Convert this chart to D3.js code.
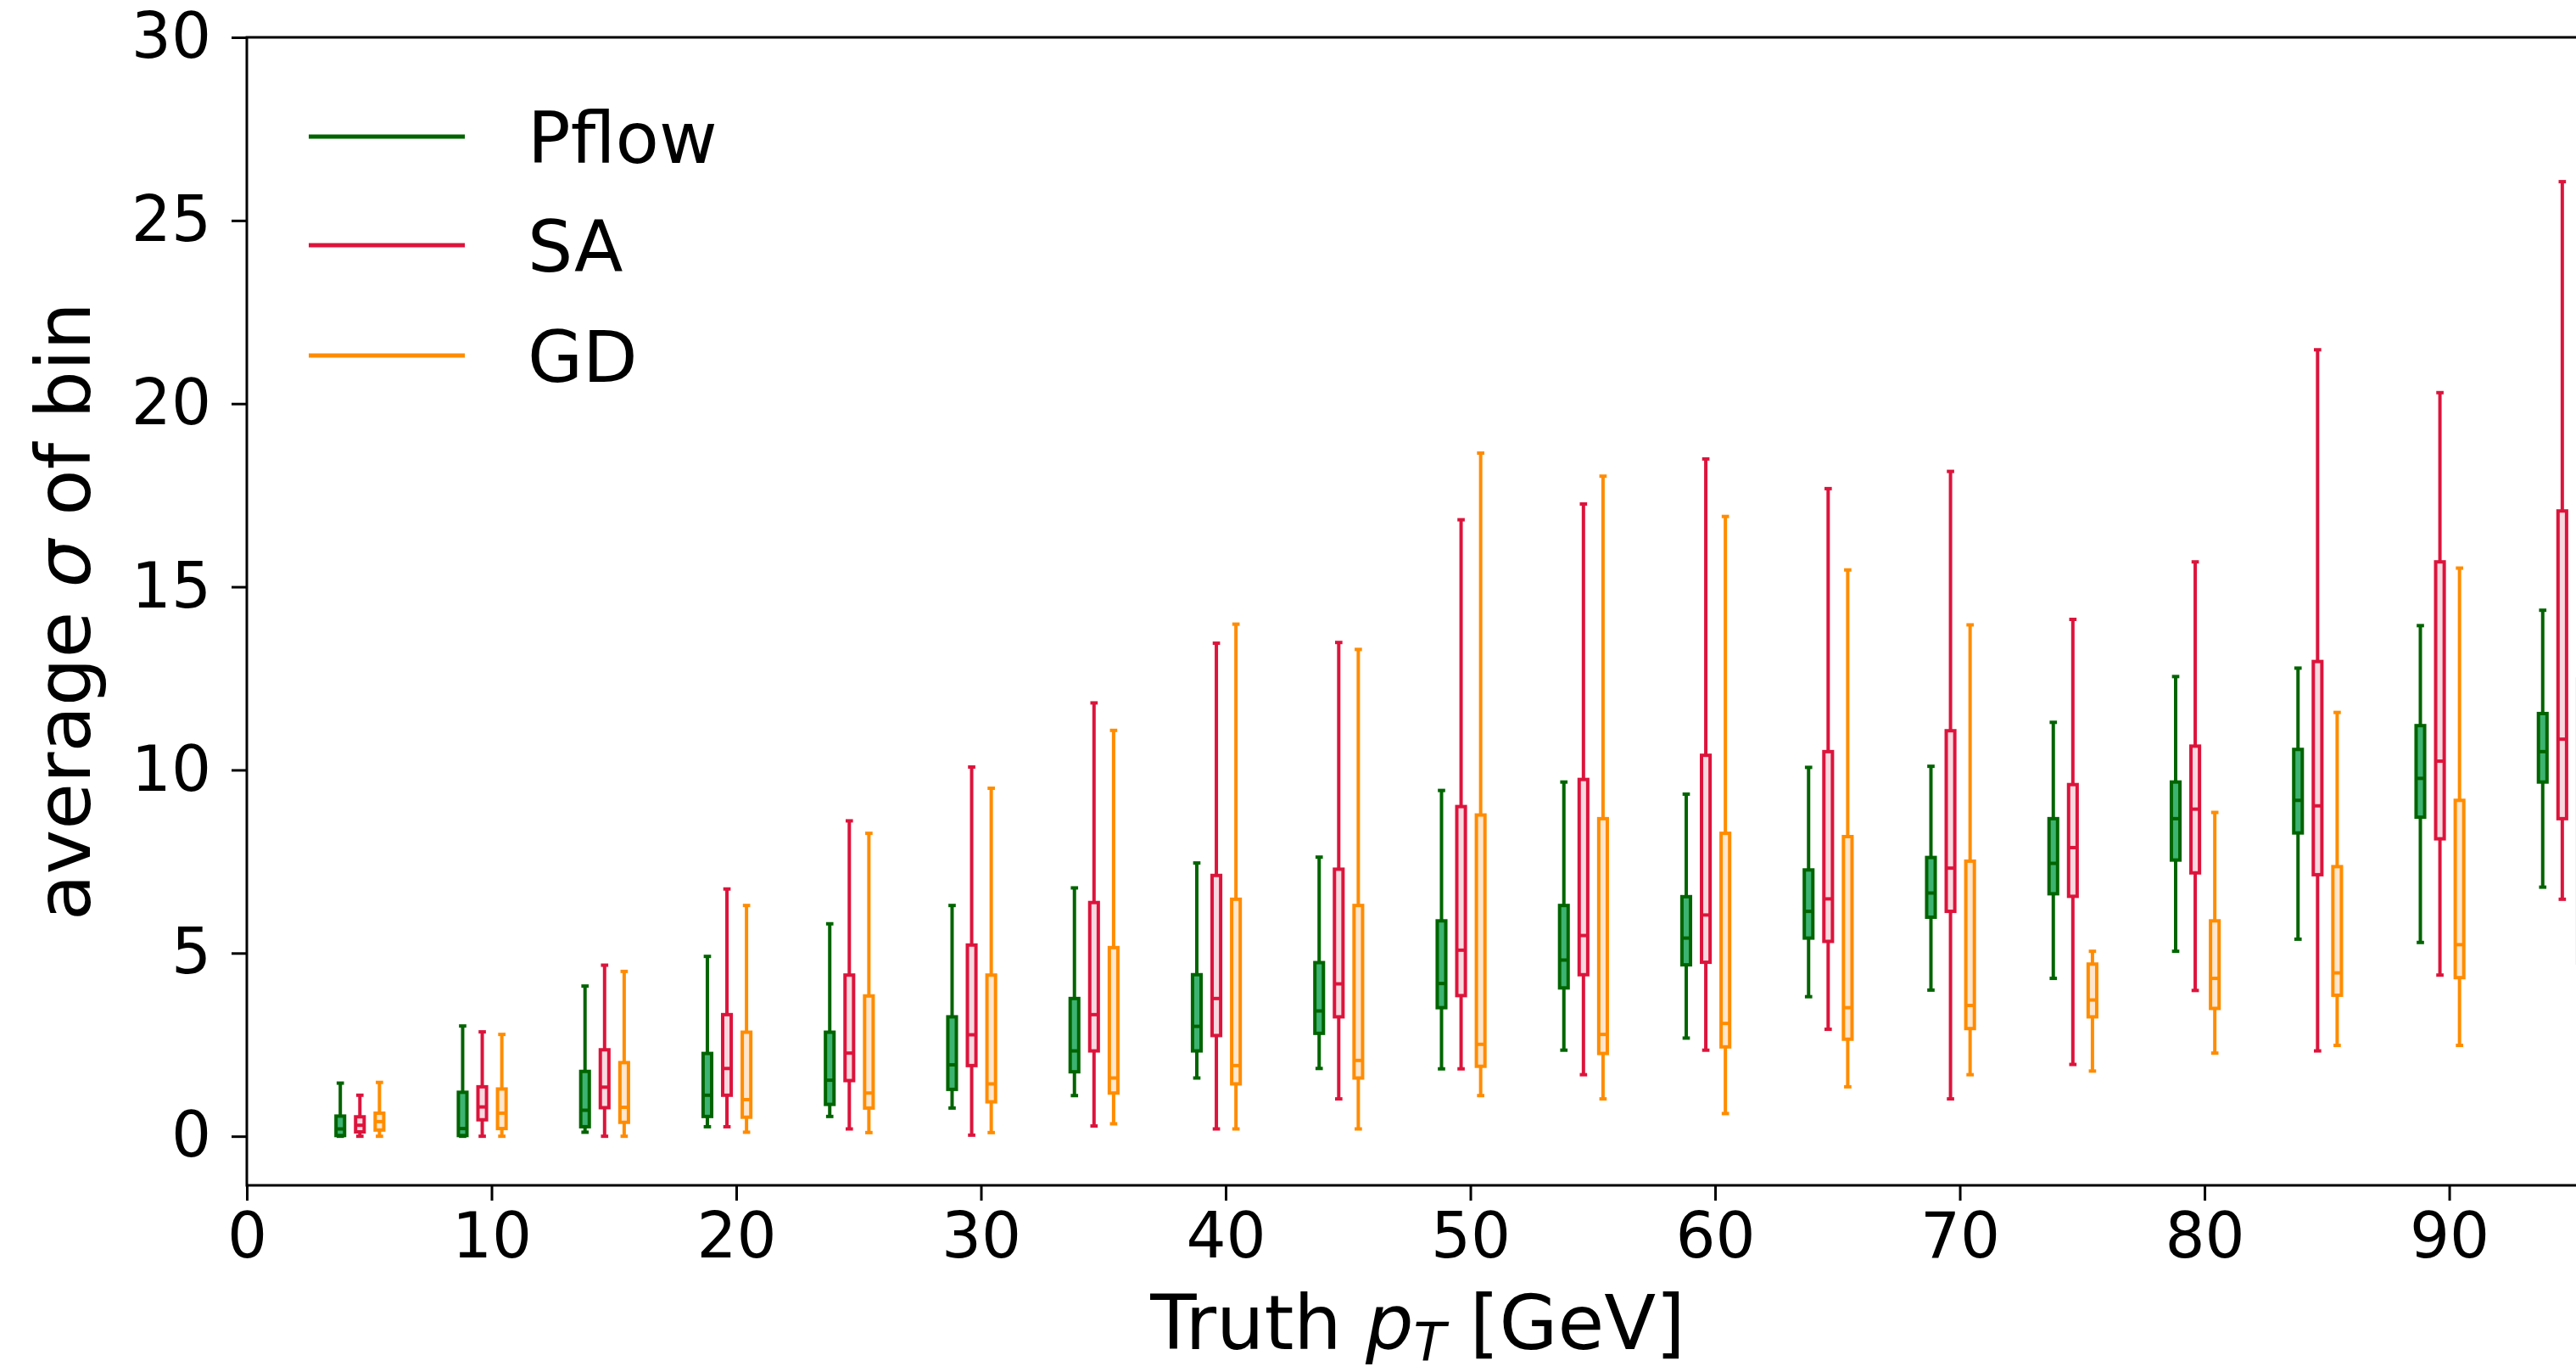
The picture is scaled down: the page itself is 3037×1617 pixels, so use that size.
<!DOCTYPE html>
<html>
<head>
<meta charset="utf-8">
<script src="https://cdn.jsdelivr.net/npm/d3@7"></script>
<style>
  body { margin: 0; background: white; overflow: hidden; }
  svg { display: block; font-family: "DejaVu Sans", sans-serif; }
</style>
</head>
<body>
<div id="chart"></div>
<script>
// Layout
const width = 3037;
const height = 1617;
const margin = {top: 44, right: -15, bottom: 220, left: 291};  // the axes frame runs a bit past the right edge

// Data
const bin_centers = [5, 10, 15, 20, 25, 30, 35, 40, 45, 50, 55, 60, 65, 70, 75, 80, 85, 90, 95];
const series_names = ["Pflow", "SA", "GD"];

// one row per bin: [low whisker, q1, median, q3, high whisker]
const pflow_boxes = [
  [0.00, 0.02, 0.20, 0.55, 1.45],
  [0.00, 0.02, 0.21, 1.20, 3.01],
  [0.11, 0.26, 0.71, 1.77, 4.10],
  [0.26, 0.54, 1.12, 2.26, 4.91],
  [0.54, 0.87, 1.53, 2.84, 5.80],
  [0.77, 1.28, 1.95, 3.26, 6.30],
  [1.11, 1.76, 2.33, 3.76, 6.78],
  [1.59, 2.33, 3.00, 4.41, 7.46],
  [1.85, 2.81, 3.42, 4.74, 7.62],
  [1.84, 3.51, 4.17, 5.88, 9.44],
  [2.35, 4.05, 4.81, 6.30, 9.67],
  [2.68, 4.68, 5.41, 6.54, 9.34],
  [3.81, 5.41, 6.14, 7.27, 10.07],
  [3.99, 5.98, 6.64, 7.61, 10.10],
  [4.31, 6.62, 7.45, 8.67, 11.30],
  [5.05, 7.54, 8.67, 9.67, 12.55],
  [5.38, 8.28, 9.17, 10.56, 12.78],
  [5.29, 8.71, 9.77, 11.21, 13.94],
  [6.80, 9.67, 10.50, 11.54, 14.36]
];
const sa_boxes = [
  [0.00, 0.12, 0.30, 0.53, 1.12],
  [0.00, 0.45, 0.80, 1.35, 2.85],
  [0.00, 0.78, 1.34, 2.36, 4.67],
  [0.26, 1.12, 1.85, 3.32, 6.75],
  [0.20, 1.52, 2.27, 4.40, 8.61],
  [0.03, 1.93, 2.77, 5.22, 10.08],
  [0.28, 2.33, 3.32, 6.38, 11.83],
  [0.20, 2.75, 3.76, 7.12, 13.46],
  [1.02, 3.26, 4.16, 7.29, 13.48],
  [1.84, 3.84, 5.08, 9.00, 16.83],
  [1.68, 4.41, 5.48, 9.74, 17.26],
  [2.35, 4.75, 6.04, 10.40, 18.49],
  [2.92, 5.32, 6.48, 10.50, 17.68],
  [1.02, 6.14, 7.32, 11.07, 18.15],
  [1.96, 6.55, 7.88, 9.60, 14.11],
  [3.98, 7.19, 8.93, 10.65, 15.68],
  [2.33, 7.14, 9.02, 12.96, 21.47],
  [4.40, 8.12, 10.24, 15.68, 20.30],
  [6.47, 8.67, 10.84, 17.07, 26.06]
];
const gd_boxes = [
  [0.00, 0.17, 0.40, 0.63, 1.47],
  [0.00, 0.21, 0.63, 1.29, 2.78],
  [0.00, 0.38, 0.79, 2.01, 4.50],
  [0.11, 0.52, 1.00, 2.84, 6.30],
  [0.10, 0.77, 1.18, 3.83, 8.27],
  [0.10, 0.94, 1.43, 4.40, 9.50],
  [0.34, 1.18, 1.59, 5.15, 11.08],
  [0.20, 1.43, 1.93, 6.47, 13.98],
  [0.20, 1.59, 2.07, 6.30, 13.29],
  [1.11, 1.91, 2.51, 8.77, 18.65],
  [1.02, 2.26, 2.78, 8.67, 18.02],
  [0.62, 2.44, 3.08, 8.27, 16.92],
  [1.35, 2.65, 3.51, 8.18, 15.46],
  [1.68, 2.94, 3.57, 7.51, 13.96],
  [1.78, 3.26, 3.72, 4.70, 5.05],
  [2.27, 3.49, 4.31, 5.88, 8.84],
  [2.48, 3.85, 4.46, 7.36, 11.57],
  [2.48, 4.33, 5.23, 9.17, 15.51],
  [3.77, 4.73, 5.81, 12.48, 23.77]
];

const x_ticks = [0, 10, 20, 30, 40, 50, 60, 70, 80, 90];
const y_ticks = [0, 5, 10, 15, 20, 25, 30];

// Style
const edge_colors = ["#006400", "#dc143c", "#ff8c00"];
const fill_colors = ["#3cb371", "#f9d9e0", "#ffe6cc"];
const series_offsets = [-1.18, -0.38, 0.42];  // boxes sit side by side around each bin centre
const box_width = 0.35;
const cap_width = 0.3;
const line_w = 4;

// Scales
let x = d3.scaleLinear()
  .domain([0, 95.7])
  .range([margin.left, width - margin.right]);

let y = d3.scaleLinear()
  .domain([-1.34, 30])
  .range([height - margin.bottom, margin.top]);

let svg_selection = d3.select("#chart").append("svg")
  .attr("width", width)
  .attr("height", height);

// Boxes
const all_boxes = [pflow_boxes, sa_boxes, gd_boxes];
const half_box = (x(box_width) - x(0)) / 2;
const half_cap = (x(cap_width) - x(0)) / 2;

all_boxes.forEach((boxes, s) => {
  let group_selection = svg_selection.append("g")
    .attr("stroke", edge_colors[s])
    .attr("stroke-width", line_w)
    .attr("fill", "none");

  let box_selection = group_selection.selectAll("g").data(boxes).join("g")
    .attr("transform", (d, i) => `translate(${x(bin_centers[i] + series_offsets[s])},0)`);

  // whiskers, below and above the box
  box_selection.append("line")
    .attr("y1", d => y(d[0])).attr("y2", d => y(d[1]));
  box_selection.append("line")
    .attr("y1", d => y(d[3])).attr("y2", d => y(d[4]));

  // caps
  box_selection.selectAll("line.cap").data(d => [d[0], d[4]]).join("line")
    .attr("class", "cap")
    .attr("x1", -half_cap).attr("x2", half_cap)
    .attr("y1", v => y(v)).attr("y2", v => y(v));

  box_selection.append("rect")
    .attr("x", -half_box)
    .attr("width", 2 * half_box)
    .attr("y", d => y(d[3]))
    .attr("height", d => y(d[1]) - y(d[3]))
    .attr("fill", fill_colors[s]);

  // median
  box_selection.append("line")
    .attr("x1", -half_box).attr("x2", half_box)
    .attr("y1", d => y(d[2])).attr("y2", d => y(d[2]));
});

// Axes
const tick_font = 74;

let x_axis_selection = svg_selection.append("g")
  .attr("transform", `translate(0,${y(-1.34)})`)
  .call(d3.axisBottom(x).tickValues(x_ticks).tickSize(18).tickPadding(14).tickFormat(d3.format("d")));

let y_axis_selection = svg_selection.append("g")
  .attr("transform", `translate(${x(0)},0)`)
  .call(d3.axisLeft(y).tickValues(y_ticks).tickSize(18).tickPadding(24).tickFormat(d3.format("d")));

[x_axis_selection, y_axis_selection].forEach(g => {
  g.select(".domain").remove();
  g.attr("font-size", tick_font).attr("font-family", "DejaVu Sans");
  g.selectAll(".tick line").attr("stroke", "black").attr("stroke-width", 3);
  g.selectAll(".tick text").attr("fill", "black");
});

// frame (right side is off the picture)
svg_selection.append("rect")
  .attr("x", x(0))
  .attr("y", y(30))
  .attr("width", x(95.7) - x(0))
  .attr("height", y(-1.34) - y(30))
  .attr("fill", "none")
  .attr("stroke", "black")
  .attr("stroke-width", 3);

// Axis labels
const label_font = 89;

let x_label = svg_selection.append("text")
  .attr("x", (x(0) + x(95.7)) / 2)
  .attr("y", 1590)
  .attr("text-anchor", "middle")
  .attr("font-size", label_font);
x_label.append("tspan").text("Truth ");
x_label.append("tspan").attr("font-style", "italic").text("p");
x_label.append("tspan").attr("font-style", "italic").attr("font-size", 62).attr("dy", 13).text("T");
x_label.append("tspan").attr("dy", -13).text(" [GeV]");

let y_label = svg_selection.append("text")
  .attr("transform", `translate(106,${(y(30) + y(-1.34)) / 2}) rotate(-90)`)
  .attr("text-anchor", "middle")
  .attr("font-size", label_font);
y_label.append("tspan").text("average ");
y_label.append("tspan").attr("font-style", "italic").text("σ");
y_label.append("tspan").text(" of bin");

// Legend
const legend_y = [161, 289, 419];

let legend_selection = svg_selection.append("g").selectAll("g").data(series_names).join("g")
  .attr("transform", (d, i) => `translate(0,${legend_y[i]})`);

legend_selection.append("line")
  .attr("x1", 364).attr("x2", 548)
  .attr("stroke", (d, i) => edge_colors[i])
  .attr("stroke-width", 5);

legend_selection.append("text")
  .attr("x", 622)
  .attr("y", 31)
  .attr("font-size", 84)
  .text(d => d);
</script>
</body>
</html>
